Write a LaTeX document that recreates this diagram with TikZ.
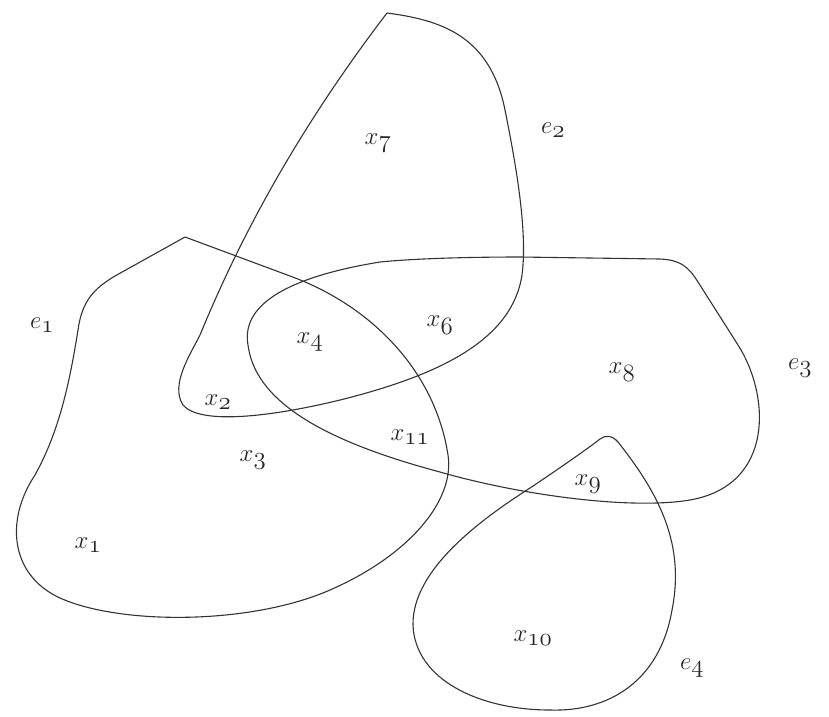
\documentclass[tikz,border=0pt]{standalone}
\begin{document}
\begin{tikzpicture}[x=1pt,y=-1pt,
  edge/.style={line width=1.1pt,draw=black!80,line join=round},
  lbl/.style={font=\fontsize{34}{36}\selectfont,inner sep=0pt,text=black!85}]
\useasboundingbox (0,0) rectangle (829,716);
\fill[white] (0,0) rectangle (829,716);
% e2
\draw[edge] (387,13) .. controls (440,20) and (490,35) .. (505,110)
  .. controls (515,160) and (528,230) .. (522,275)
  .. controls (512,340) and (440,375) .. (340,400)
  .. controls (270,417) and (200,425) .. (183,405)
  .. controls (170,385) and (190,355) .. (200,335)
  .. controls (235,250) and (290,140) .. (387,13) -- cycle;
% e1
\draw[edge] (185,237) -- (290,276)
  .. controls (370,305) and (435,370) .. (448,455)
  .. controls (455,500) and (410,555) .. (330,590)
  .. controls (250,625) and (120,625) .. (60,598)
  .. controls (10,575) and (5,520) .. (35,475)
  .. controls (60,430) and (70,380) .. (78,330)
  .. controls (82,300) and (95,288) .. (115,276) -- cycle;
% e3
\draw[edge] (520,257) -- (660,259)
  .. controls (680,260) and (688,266) .. (698,282)
  -- (738,345)
  .. controls (770,395) and (775,485) .. (690,500)
  .. controls (630,510) and (520,495) .. (440,472)
  .. controls (320,440) and (255,400) .. (248,345)
  .. controls (240,300) and (300,275) .. (380,262)
  .. controls (420,258) and (480,257) .. (520,257) -- cycle;
% e4
\draw[edge] (600,439) .. controls (605,435) and (612,435) .. (618,442)
  .. controls (660,495) and (685,545) .. (672,610)
  .. controls (660,680) and (610,712) .. (550,710)
  .. controls (480,710) and (415,680) .. (413,625)
  .. controls (412,570) and (480,520) .. (530,488)
  .. controls (560,468) and (590,447) .. (600,439) -- cycle;
% labels
\node[lbl] (x7) at (378,143) {$x_{\oldstylenums{7}}$};
\node[lbl] (e2) at (553,130) {$e_{\oldstylenums{2}}$};
\node[lbl] (e1) at (42,325) {$e_{\oldstylenums{1}}$};
\node[lbl] (x4) at (310,342) {$x_{\oldstylenums{4}}$};
\node[lbl] (x6) at (440,325) {$x_{\oldstylenums{6}}$};
\node[lbl] (x8) at (622,372) {$x_{\oldstylenums{8}}$};
\node[lbl] (e3) at (800,368) {$e_{\oldstylenums{3}}$};
\node[lbl] (x2) at (218,402) {$x_{\oldstylenums{2}}$};
\node[lbl] (x11) at (410,437) {$x_{\oldstylenums{11}}$};
\node[lbl] (x3) at (253,460) {$x_{\oldstylenums{3}}$};
\node[lbl] (x9) at (588,484) {$x_{\oldstylenums{9}}$};
\node[lbl] (x1) at (88,545) {$x_{\oldstylenums{1}}$};
\node[lbl] (x10) at (533,638) {$x_{\oldstylenums{10}}$};
\node[lbl] (e4) at (692,668) {$e_{\oldstylenums{4}}$};
\end{tikzpicture}
\end{document}
